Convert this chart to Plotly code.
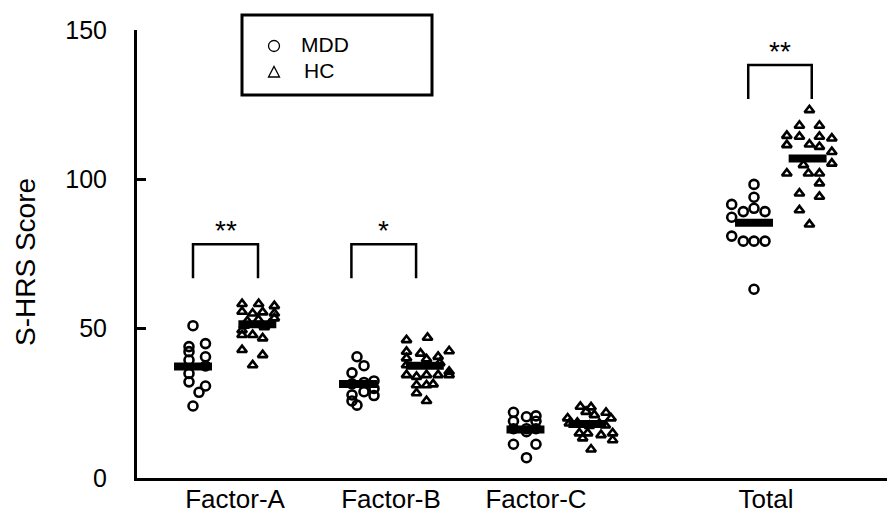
import plotly.graph_objects as go

# ---------------- data ----------------
categories = ["Factor-A", "Factor-B", "Factor-C", "Total"]
tick_pos = [1.055, 2.0, 2.879, 4.273]      # label positions on the x axis
mdd_pos = [0.80, 1.80, 2.815, 4.20]        # MDD column centre for each category
hc_pos = [1.19, 2.205, 3.19, 4.525]        # HC column centre for each category

# individual scores
mdd_a = [51.0, 44.0, 45.0, 42.3, 40.6, 39.5, 37.5, 35.0, 32.2, 30.8, 28.7, 24.1]
hc_a = [58.3, 58.3, 57.6, 55.7, 55.1, 55.5, 55.1, 53.5, 53.0, 52.5, 51.5, 51.0, 50.5,
        49.5, 47.9, 47.9, 46.8, 42.9, 41.2, 37.8]
mdd_b = [40.6, 37.6, 35.2, 32.5, 32.0, 31.5, 30.0, 28.9, 27.8, 27.6, 25.8, 24.4]
hc_b = [47.0, 46.2, 42.5, 42.3, 41.7, 40.6, 40.1, 39.8, 38.5, 37.8, 35.6, 34.5, 34.5,
        34.5, 34.5, 33.9, 31.4, 31.1, 31.1, 28.4, 25.8]
mdd_c = [22.0, 20.8, 20.5, 19.0, 19.0, 16.5, 16.5, 16.5, 15.5, 11.3, 11.3, 6.8]
hc_c = [23.9, 23.7, 22.2, 21.9, 21.1, 20.0, 20.0, 18.5, 18.3, 18.2, 17.6, 17.5, 15.0,
        15.0, 15.0, 14.4, 13.3, 12.7, 9.6]
mdd_t = [98.3, 94.0, 91.6, 90.3, 89.2, 89.2, 87.3, 81.0, 79.3, 79.3, 79.3, 63.2]
hc_t = [123.2, 118.0, 118.0, 114.6, 114.3, 114.3, 113.7, 111.5, 111.7, 110.9, 109.2,
        104.8, 105.3, 102.0, 102.0, 102.0, 98.7, 95.3, 94.2, 89.7, 84.9]

# horizontal scatter offsets of each point (in pixels of the reference)
jit_mdd_a = [0, -4, 12.5, -4, 12.5, -4, 12.5, -4, -4, 12.5, 6, 0]
jit_hc_a = [-15.3, 1.3, 17, -15.3, -4.7, 5.3, 17, 17, 1, -10, 12, -13, 7, -15.3, -15.3,
            -4.7, 5.3, -15.3, 5.3, -4.7]
jit_mdd_b = [-1, 6, -6, 16, 6, -6, 16, 6, -6, 16, -6, -1]
jit_hc_b = [2.7, -18.3, 24.3, -18.3, -4.3, 13.3, -18.3, 1.7, 15, -18.3, 24.3, -18.3, 1.7,
            13.3, 24.3, -8.3, 8.3, -8.3, 1.7, -8.3, 1.7]
jit_mdd_c = [-12, 10.5, 1, -12, 10.5, -12, 1, 10.5, 1, -12, 10.5, 1]
jit_hc_c = [-7, 3.7, -1.3, 18.7, 7, 23.7, -19.7, -10, -18, 12, 18, 2, -8, 0.3, 25.3, 13.7,
            -4.7, 25.3, 3.7]
jit_mdd_t = [0, 0, -22.3, 0, -10.7, 11, -22.3, -22.3, -10.7, 0, 11, 0]
jit_hc_t = [1.8, -8.2, 11.8, -20.8, -8.2, 11.8, 24.2, -20.8, 1.8, 11.8, 24.2, -4.2, 24.2,
            -20.8, 0.8, 11.8, 11.8, -8.2, 11.8, -8.2, 1.8]

# group means (thick horizontal bars)
mdd_mean = [37.3, 31.5, 16.2, 85.5]
hc_mean = [51.5, 37.6, 18.1, 107.0]

# significance brackets
sig_left = [0.80, 1.76, 4.165]
sig_right = [1.194, 2.152, 4.55]
sig_top = [78.3, 78.3, 138.3]
sig_label = ["**", "*", "**"]

y_ticks = [0, 50, 100, 150]

# ---------------- figure ----------------
FONT = "Liberation Sans, Arial, sans-serif"
PX_PER_UNIT = 165.0
BAR_HALF = 0.115
LEG = 11.4

mdd_vals = [mdd_a, mdd_b, mdd_c, mdd_t]
hc_vals = [hc_a, hc_b, hc_c, hc_t]
mdd_jit = [jit_mdd_a, jit_mdd_b, jit_mdd_c, jit_mdd_t]
hc_jit = [jit_hc_a, jit_hc_b, jit_hc_c, jit_hc_t]

fig = go.Figure()

for i in range(4):
    fig.add_trace(go.Scatter(
        x=[mdd_pos[i] + d / PX_PER_UNIT for d in mdd_jit[i]], y=mdd_vals[i],
        mode="markers", name="MDD", showlegend=False, cliponaxis=False,
        marker=dict(symbol="circle-open", size=9, color="black",
                    line=dict(width=2.6, color="black"))))
    fig.add_trace(go.Scatter(
        x=[hc_pos[i] + d / PX_PER_UNIT for d in hc_jit[i]], y=hc_vals[i],
        mode="markers", name="HC", showlegend=False, cliponaxis=False,
        marker=dict(symbol="triangle-up-open", size=8.5, color="black",
                    line=dict(width=2.6, color="black"))))

for i in range(4):
    for pos, m in ((mdd_pos[i], mdd_mean[i]), (hc_pos[i], hc_mean[i])):
        fig.add_trace(go.Scatter(
            x=[pos - BAR_HALF, pos + BAR_HALF], y=[m, m], mode="lines",
            showlegend=False, hoverinfo="skip",
            line=dict(color="black", width=8)))

shapes = []
annotations = []
for l, r, t, s in zip(sig_left, sig_right, sig_top, sig_label):
    shapes.append(dict(type="path", xref="x", yref="y",
                       path=f"M{l},{t - LEG} L{l},{t} L{r},{t} L{r},{t - LEG}",
                       line=dict(color="black", width=2.5)))
    annotations.append(dict(x=(l + r) / 2, y=t, xref="x", yref="y", text=s,
                            showarrow=False, yanchor="bottom", yshift=-4,
                            font=dict(family=FONT, size=28, color="black")))

# legend box drawn in paper coordinates
L, W, T, H = 137.0, 750.0, 30.0, 448.0
def px(x):
    return (x - L) / W
def py(y):
    return (T + H - y) / H

shapes.append(dict(type="rect", xref="paper", yref="paper",
                   x0=px(242), x1=px(432), y0=py(95), y1=py(15),
                   line=dict(color="black", width=3), fillcolor="white"))
shapes.append(dict(type="circle", xref="paper", yref="paper",
                   x0=px(268.5), x1=px(279.5), y0=py(51.5), y1=py(40.5),
                   line=dict(color="black", width=1.3)))
shapes.append(dict(type="path", xref="paper", yref="paper",
                   path=f"M{px(268.5)},{py(77)} L{px(279.5)},{py(77)} L{px(274)},{py(66.5)} Z",
                   line=dict(color="black", width=1.3)))
annotations.append(dict(x=px(299), y=py(44), xref="paper", yref="paper", text="MDD",
                        showarrow=False, xanchor="left", yanchor="middle",
                        font=dict(family=FONT, size=21, color="black")))
annotations.append(dict(x=px(302), y=py(70), xref="paper", yref="paper", text="HC",
                        showarrow=False, xanchor="left", yanchor="middle",
                        font=dict(family=FONT, size=21, color="black")))

# y axis title
annotations.append(dict(x=px(25), y=py(262), xref="paper", yref="paper",
                        text="S-HRS Score", textangle=-90, showarrow=False,
                        xanchor="center", yanchor="middle",
                        font=dict(family=FONT, size=28, color="black")))

fig.update_layout(
    width=887, height=517,
    margin=dict(l=137, r=0, t=30, b=39, pad=0, autoexpand=False),
    paper_bgcolor="white", plot_bgcolor="white",
    showlegend=False,
    shapes=shapes, annotations=annotations,
    xaxis=dict(range=[1 - 89 / PX_PER_UNIT, 1 + 661 / PX_PER_UNIT], automargin=False,
               showline=True, linewidth=3, linecolor="black",
               showgrid=False, zeroline=False, ticks="",
               tickvals=tick_pos, ticktext=categories, ticklabelstandoff=-4,
               tickfont=dict(family=FONT, size=26, color="black")),
    yaxis=dict(range=[0, 150], automargin=False,
               showline=True, linewidth=3, linecolor="black",
               showgrid=False, zeroline=False, ticks="inside", ticklen=9,
               tickwidth=3, tickcolor="black", tickvals=y_ticks,
               ticklabelstandoff=22,
               tickfont=dict(family=FONT, size=25, color="black")),
)

fig.write_html("out.html", config={"displayModeBar": False},
               post_script="document.body.style.margin='0';"
                           "document.body.style.overflow='hidden';")
